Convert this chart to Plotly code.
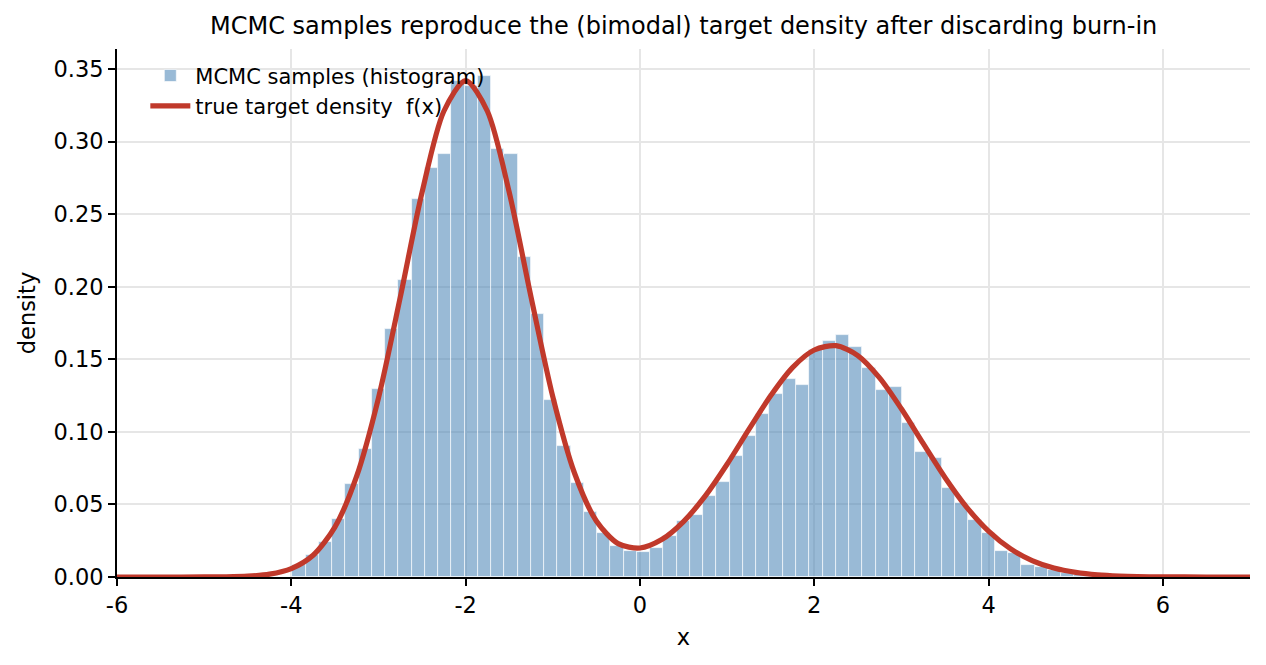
import plotly.graph_objects as go

# ---- data ----
bin_start = -3.989
bin_width = 0.1521
hist_density = [
    0.008, 0.015, 0.024, 0.0397, 0.064, 0.0879, 0.1296, 0.1709, 0.2044, 0.2604,
    0.2817, 0.2916, 0.342, 0.338, 0.3455, 0.2950, 0.2916, 0.2205, 0.1815, 0.1218,
    0.0902, 0.0645, 0.0445, 0.0305, 0.0213, 0.0181, 0.0170, 0.0197, 0.0282, 0.0385,
    0.0424, 0.0560, 0.0656, 0.0837, 0.0973, 0.1120, 0.1262, 0.1367, 0.1324, 0.1562,
    0.1627, 0.1670, 0.1588, 0.1441, 0.1287, 0.1310, 0.1062, 0.0858, 0.0817, 0.0610,
    0.0507, 0.0392, 0.0301, 0.0180, 0.0165, 0.0080, 0.0066, 0.0047, 0.0030, 0.0015,
    0.0008,
]

curve_x = [-6, -5.5, -5, -4.75, -4.5, -4.25, -4, -3.75, -3.5, -3.25, -3, -2.75, -2.5,
           -2.25, -2, -1.75, -1.5, -1.25, -1, -0.75, -0.5, -0.25, 0, 0.25, 0.5, 0.75,
           1, 1.25, 1.5, 1.75, 2, 2.25, 2.5, 2.75, 3, 3.25, 3.5, 3.75, 4, 4.25, 4.5,
           4.75, 5, 5.25, 5.5, 6, 6.5, 7]
curve_f = [0, 0, 0.00004, 0.00015, 0.00058, 0.00195, 0.0058, 0.0150, 0.0344, 0.0695,
           0.1233, 0.1927, 0.2650, 0.3209, 0.3420, 0.3209, 0.2652, 0.1931, 0.1243,
           0.0715, 0.0386, 0.0230, 0.0200, 0.0258, 0.0382, 0.0559, 0.0777, 0.1017,
           0.1249, 0.1443, 0.1564, 0.1594, 0.1526, 0.1372, 0.1159, 0.0920, 0.0686,
           0.0480, 0.0316, 0.0195, 0.0113, 0.0062, 0.0032, 0.0015, 0.0007, 0.0001,
           0, 0]

x_ticks = [-6, -4, -2, 0, 2, 4, 6]
x_tick_labels = ["-6", "-4", "-2", "0", "2", "4", "6"]
y_ticks = [0.0, 0.05, 0.10, 0.15, 0.20, 0.25, 0.30, 0.35]

title = "MCMC samples reproduce the (bimodal) target density after discarding burn-in"

# ---- figure ----
centers = [bin_start + bin_width * (i + 0.5) for i in range(len(hist_density))]

FONT = "DejaVu Sans"
fig = go.Figure()
fig.add_trace(go.Bar(
    x=centers, y=hist_density, width=bin_width,
    name="MCMC samples (histogram)",
    marker=dict(color="rgba(70,130,180,0.55)", line=dict(color="rgba(255,255,255,0.8)", width=0.8)),
))
fig.add_trace(go.Scatter(
    x=curve_x, y=curve_f, mode="lines",
    line=dict(color="#c0392b", width=5.2, shape="spline", smoothing=0.8),
    name="true target density  f(x)",
))

fig.update_layout(
    width=1266, height=665,
    margin=dict(l=117, r=16, t=49, b=88),
    paper_bgcolor="white", plot_bgcolor="white",
    font=dict(family=FONT, size=22, color="black"),
    title=dict(text=title, x=0.54, xanchor="center", y=0.962, yanchor="middle",
               font=dict(family=FONT, size=24, color="black")),
    bargap=0,
    showlegend=True,
    legend=dict(x=0.025, y=0.988, xanchor="left", yanchor="top",
                bgcolor="rgba(0,0,0,0)", borderwidth=0,
                font=dict(family=FONT, size=21, color="black"),
                tracegroupgap=0, itemwidth=40),
)
fig.update_xaxes(
    range=[-6, 7], tickvals=x_ticks, ticktext=x_tick_labels,
    showgrid=True, gridcolor="#e6e6e6", gridwidth=1.5,
    showline=True, linecolor="black", linewidth=1.7,
    ticks="outside", ticklen=7, tickwidth=1.7, tickcolor="black",
    tickfont=dict(family=FONT, size=22.5, color="black"),
    title=dict(text="x", font=dict(family=FONT, size=22.5, color="black"), standoff=12),
    zeroline=False, mirror=False,
)
fig.update_yaxes(
    range=[0, 0.3638], tickvals=y_ticks, tickformat=".2f",
    showgrid=True, gridcolor="#e6e6e6", gridwidth=1.5,
    showline=True, linecolor="black", linewidth=1.7,
    ticks="outside", ticklen=7, tickwidth=1.7, tickcolor="black",
    tickfont=dict(family=FONT, size=22.5, color="black"),
    title=dict(text="density", font=dict(family=FONT, size=22.5, color="black"), standoff=12),
    zeroline=False, mirror=False,
)

fig.write_html("out.html")
